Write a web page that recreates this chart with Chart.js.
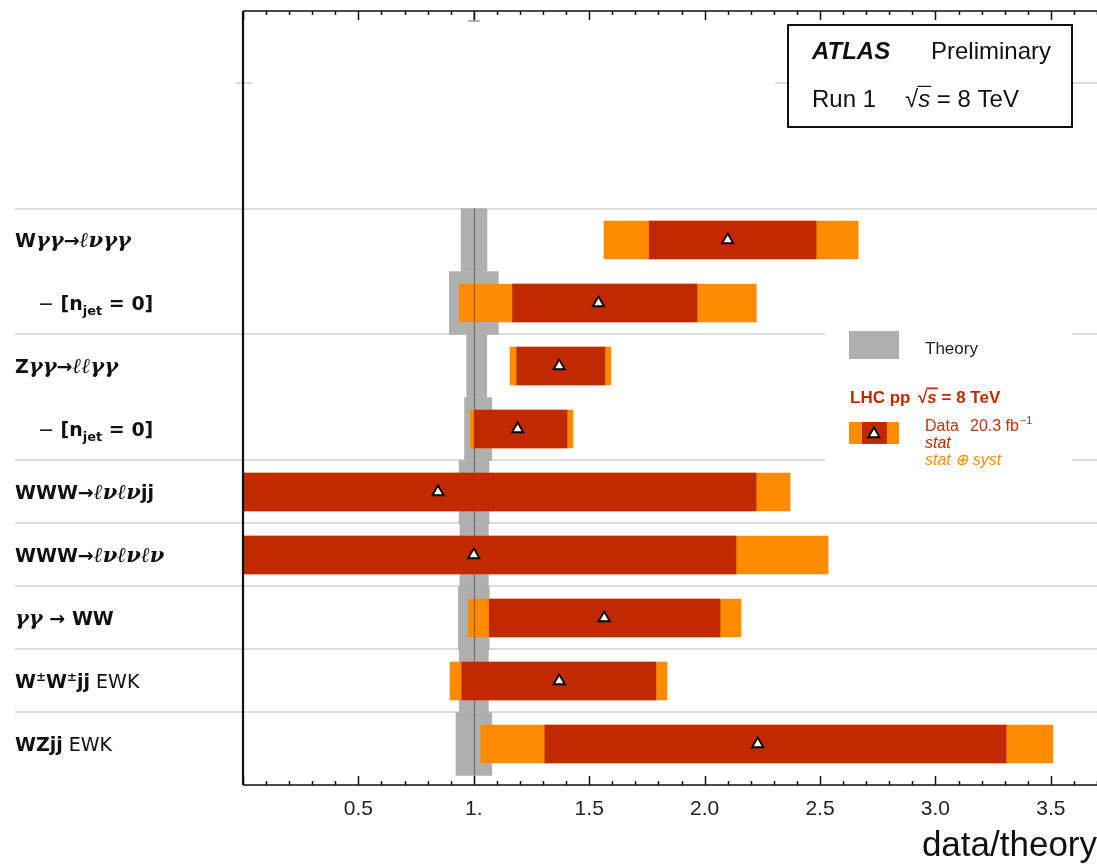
<!DOCTYPE html>
<html>
<head>
<meta charset="utf-8">
<script src="https://cdn.jsdelivr.net/npm/chart.js@4.4.1/dist/chart.umd.min.js"></script>
<style>
  html, body { margin: 0; padding: 0; background: #fff; }
  canvas { display: block; }
</style>
</head>
<body>
<canvas id="c" width="1097" height="864"></canvas>
<script>
// Rows from top to bottom. Markup: *..* italic serif, ~..~ regular weight,
// _{..} subscript, ^{..} superscript; everything else bold.
const categories = [
  'W*γγ*→*ℓνγγ*',
  '− [n_{jet} = 0]',
  'Z*γγ*→*ℓℓγγ*',
  '− [n_{jet} = 0]',
  'WWW→*ℓνℓν*jj',
  'WWW→*ℓνℓνℓν*',
  '*γγ* → WW',
  'W^{±}W^{±}jj~ EWK~',
  'WZjj~ EWK~'
];
// rows per measurement group (separated by thin rules)
const groupSizes = [2, 2, 1, 1, 1, 1, 1];

// measured / predicted cross-section
const ratio   = [2.10, 1.54, 1.37, 1.19, 0.845, 1.00, 1.565, 1.37, 2.23];
// statistical interval
const statLo  = [1.76, 1.168, 1.186, 1.002, -0.53, -0.14, 1.067, 0.948, 1.308];
const statHi  = [2.483, 1.967, 1.568, 1.404, 2.223, 2.136, 2.067, 1.789, 3.306];
// statistical + systematic interval
const totLo   = [1.564, 0.937, 1.157, 0.984, -0.68, -0.54, 0.976, 0.897, 1.030];
const totHi   = [2.665, 2.224, 1.594, 1.430, 2.370, 2.535, 2.158, 1.837, 3.509];
// theory interval (normalised to the prediction)
const theoryLo = [0.945, 0.894, 0.969, 0.960, 0.936, 0.940, 0.933, 0.937, 0.923];
const theoryHi = [1.057, 1.106, 1.056, 1.078, 1.066, 1.063, 1.067, 1.063, 1.078];

// x axis labels
const tickValues = [0.5, 1, 1.5, 2, 2.5, 3, 3.5];
const tickLabels = ['0.5', '1.', '1.5', '2.0', '2.5', '3.0', '3.5'];

const RED = '#c12a00';
const ORANGE = '#ff8c00';
const GREY = '#afafaf';

const rows = categories.map((_, i) => i);
const band = (lo, hi) => rows.map(i => ({ x: [lo[i], hi[i]], y: i }));

// ---------- rich label drawing ----------
const FONTS = {
  b:   { font: 'bold 19px "DejaVu Sans"', dy: 0 },
  r:   { font: '19px "DejaVu Sans"', dy: 0 },
  i:   { font: 'italic bold 21px "DejaVu Serif"', dy: 0 },
  sub: { font: 'bold 13px "DejaVu Sans"', dy: 5 },
  sup: { font: 'bold 12px "DejaVu Sans"', dy: -7 }
};
function parseRich(str) {
  const segs = [];
  let mode = 'b', buf = '';
  const push = (m, t) => { if (t) segs.push({ m, t }); };
  for (let k = 0; k < str.length; k++) {
    const c = str[k];
    if (c === '*') { push(mode, buf); buf = ''; mode = mode === 'i' ? 'b' : 'i'; }
    else if (c === '~') { push(mode, buf); buf = ''; mode = mode === 'r' ? 'b' : 'r'; }
    else if ((c === '_' || c === '^') && str[k + 1] === '{') {
      push(mode, buf); buf = '';
      const end = str.indexOf('}', k);
      push(c === '_' ? 'sub' : 'sup', str.slice(k + 2, end));
      k = end;
    } else if (c === '−') { push(mode, buf); buf = ''; push('r', c); }
    else buf += c;
  }
  push(mode, buf);
  return segs;
}
function drawRich(ctx, str, x, baseline) {
  ctx.textAlign = 'left';
  ctx.textBaseline = 'alphabetic';
  for (const s of parseRich(str)) {
    const f = FONTS[s.m];
    ctx.font = f.font;
    ctx.fillText(s.t, x, baseline + f.dy);
    x += ctx.measureText(s.t).width;
  }
}
function triangle(ctx, x, y, r) {
  ctx.beginPath();
  ctx.moveTo(x, y - r);
  ctx.lineTo(x + r * 0.866, y + r * 0.5);
  ctx.lineTo(x - r * 0.866, y + r * 0.5);
  ctx.closePath();
  ctx.fillStyle = '#fff';
  ctx.fill();
  ctx.lineWidth = 1.8;
  ctx.strokeStyle = '#000';
  ctx.stroke();
}
// "√s" with an overbar; returns the x after the text
function drawSqrtS(ctx, x, baseline, size, weight) {
  ctx.textAlign = 'left';
  ctx.textBaseline = 'alphabetic';
  ctx.font = `${weight} ${size}px "Liberation Sans"`;
  ctx.fillText('√', x, baseline);
  x += ctx.measureText('√').width;
  ctx.font = `italic ${weight} ${size}px "Liberation Sans"`;
  const w = ctx.measureText('s').width;
  ctx.fillText('s', x, baseline);
  ctx.beginPath();
  ctx.lineWidth = weight === 'bold' ? 1.8 : 1.2;
  ctx.moveTo(x - 1, baseline - size * 0.86);
  ctx.lineTo(x + w + 1, baseline - size * 0.86);
  ctx.stroke();
  return x + w;
}

const decor = {
  id: 'decor',
  beforeDatasetsDraw(chart) {
    const { ctx, scales: { y } } = chart;
    ctx.save();
    ctx.strokeStyle = '#dcdcdc';
    ctx.lineWidth = 2;
    let b = -0.5;
    const bounds = [b];
    groupSizes.slice(0, -1).forEach(n => { b += n; bounds.push(b); });
    for (const v of bounds) {
      const py = Math.round(y.getPixelForValue(v));
      ctx.beginPath(); ctx.moveTo(15, py); ctx.lineTo(1097, py); ctx.stroke();
    }
    // upper rule, mostly hidden
    const pu = Math.round(y.getPixelForValue(-2.5));
    ctx.beginPath(); ctx.moveTo(236, pu); ctx.lineTo(252, pu); ctx.stroke();
    ctx.beginPath(); ctx.moveTo(775, pu); ctx.lineTo(1097, pu); ctx.stroke();
    ctx.restore();
  },
  afterDatasetDraw(chart, args) {
    if (args.index !== 2) return;
    const { ctx, chartArea, scales: { x, y } } = chart;
    const px = Math.round(x.getPixelForValue(1)) + 0.5;
    ctx.save();
    ctx.strokeStyle = 'rgba(70,70,70,0.6)';
    ctx.lineWidth = 1.2;
    ctx.beginPath();
    ctx.moveTo(px, y.getPixelForValue(-0.5));
    ctx.lineTo(px, chartArea.bottom);
    ctx.stroke();
    ctx.restore();
  },
  afterDatasetsDraw(chart) {
    const { ctx, chartArea: ca, scales: { x, y } } = chart;
    ctx.save();
    // theory stub on the top axis
    const p1 = x.getPixelForValue(1);
    ctx.strokeStyle = '#9a9a9a';
    ctx.lineWidth = 1.5;
    ctx.beginPath();
    ctx.moveTo(p1, ca.top); ctx.lineTo(p1, ca.top + 10);
    ctx.moveTo(p1 - 6, ca.top + 10); ctx.lineTo(p1 + 6, ca.top + 10);
    ctx.stroke();

    // frame
    ctx.strokeStyle = '#111';
    ctx.lineWidth = 2.2;
    ctx.beginPath();
    ctx.moveTo(ca.left, ca.top); ctx.lineTo(ca.left, ca.bottom);
    ctx.stroke();
    ctx.lineWidth = 1.6;
    ctx.beginPath();
    ctx.moveTo(ca.left, ca.top); ctx.lineTo(ca.right, ca.top);
    ctx.moveTo(ca.left, ca.bottom); ctx.lineTo(ca.right, ca.bottom);
    ctx.stroke();
    // tick marks, bottom and top
    ctx.lineWidth = 1.5;
    ctx.beginPath();
    for (const t of x.ticks) {
      const major = Math.abs(t.value * 2 - Math.round(t.value * 2)) < 1e-6;
      const len = major ? 9 : 4;
      const px = Math.round(x.getPixelForValue(t.value)) + 0.5;
      ctx.moveTo(px, ca.bottom); ctx.lineTo(px, ca.bottom - len);
      ctx.moveTo(px, ca.top); ctx.lineTo(px, ca.top + len);
    }
    ctx.stroke();

    // row labels
    ctx.fillStyle = '#111';
    categories.forEach((lab, i) => {
      const py = y.getPixelForValue(i);
      const x0 = lab.startsWith('−') ? 38 : 15;
      drawRich(ctx, lab, x0, py + 7);
    });

    // experiment box
    ctx.fillStyle = '#fff';
    ctx.fillRect(788, 25, 284, 102);
    ctx.strokeStyle = '#111';
    ctx.lineWidth = 2;
    ctx.strokeRect(788, 25, 284, 102);
    ctx.fillStyle = '#111';
    ctx.textBaseline = 'alphabetic';
    ctx.textAlign = 'left';
    ctx.font = 'italic bold 24px "Liberation Sans"';
    ctx.fillText('ATLAS', 812, 59);
    ctx.font = '24px "Liberation Sans"';
    ctx.fillText('Preliminary', 931, 59);
    ctx.fillText('Run 1', 812, 107);
    ctx.strokeStyle = '#111';
    let xx = drawSqrtS(ctx, 905, 107, 24, 'normal');
    ctx.font = '24px "Liberation Sans"';
    ctx.fillText(' = 8 TeV', xx, 107);

    // legend
    ctx.fillStyle = '#fff';
    ctx.fillRect(825, 318, 247, 156);
    ctx.fillStyle = GREY;
    ctx.fillRect(849, 331, 50, 28);
    ctx.fillStyle = '#222';
    ctx.font = '17px "Liberation Sans"';
    ctx.fillText('Theory', 925, 354);

    ctx.fillStyle = RED;
    ctx.strokeStyle = RED;
    ctx.font = 'bold 17px "Liberation Sans"';
    ctx.fillText('LHC pp', 850, 403);
    xx = drawSqrtS(ctx, 918, 403, 17, 'bold');
    ctx.font = 'bold 17px "Liberation Sans"';
    ctx.fillText(' = 8 TeV', xx, 403);

    ctx.fillStyle = ORANGE;
    ctx.fillRect(849, 422, 50, 22);
    ctx.fillStyle = RED;
    ctx.fillRect(862, 422, 25, 22);
    triangle(ctx, 874, 434, 6.5);

    ctx.fillStyle = '#c0350f';
    ctx.font = '16px "Liberation Sans"';
    ctx.fillText('Data', 925, 431);
    ctx.fillText('20.3 fb', 970, 431);
    const fbw = ctx.measureText('20.3 fb').width;
    ctx.font = '11px "Liberation Sans"';
    ctx.fillText('−1', 970 + fbw + 1, 424);
    ctx.fillStyle = RED;
    ctx.font = 'italic 16px "Liberation Sans"';
    ctx.fillText('stat', 925, 448);
    ctx.fillStyle = ORANGE;
    ctx.fillText('stat ⊕ syst', 925, 465);
    ctx.restore();
  }
};

new Chart(document.getElementById('c'), {
  type: 'bar',
  data: {
    datasets: [
      {
        type: 'scatter',
        label: 'Data',
        data: rows.map(i => ({ x: ratio[i], y: i })),
        pointStyle: 'triangle',
        pointRadius: 6.5,
        pointHoverRadius: 6.5,
        backgroundColor: '#fff',
        borderColor: '#000',
        borderWidth: 1.8,
        order: 0
      },
      {
        label: 'stat',
        data: band(statLo, statHi),
        backgroundColor: RED,
        barThickness: 38,
        grouped: false,
        borderWidth: 0,
        order: 1
      },
      {
        label: 'stat ⊕ syst',
        data: band(totLo, totHi),
        backgroundColor: ORANGE,
        barThickness: 38,
        grouped: false,
        borderWidth: 0,
        order: 2
      },
      {
        label: 'Theory',
        data: band(theoryLo, theoryHi),
        backgroundColor: GREY,
        barThickness: 63,
        grouped: false,
        borderWidth: 0,
        order: 3
      }
    ]
  },
  options: {
    indexAxis: 'y',
    responsive: false,
    animation: false,
    devicePixelRatio: 1,
    layout: { autoPadding: false, padding: { left: 243, top: 11, right: 0, bottom: 0 } },
    plugins: { legend: { display: false }, tooltip: { enabled: false } },
    events: [],
    scales: {
      x: {
        type: 'linear',
        position: 'bottom',
        min: 0,
        max: 3.7,
        offset: false,
        grid: { display: false, drawTicks: false },
        border: { display: false },
        ticks: {
          stepSize: 0.1,
          maxTicksLimit: 100,
          autoSkip: false,
          maxRotation: 0,
          padding: 12,
          color: '#222',
          font: { family: 'Liberation Sans', size: 21 },
          callback: v => {
            const k = tickValues.findIndex(t => Math.abs(t - v) < 1e-6);
            return k >= 0 ? tickLabels[k] : '';
          }
        },
        title: {
          display: true,
          text: 'data/theory',
          align: 'end',
          color: '#111',
          padding: { top: 0, bottom: 0 },
          font: { family: 'Liberation Sans', size: 35, lineHeight: 1 }
        },
        afterFit: s => { s.height = 79; s.paddingLeft = 0; s.paddingRight = 0; }
      },
      y: {
        type: 'linear',
        display: false,
        reverse: true,
        offset: false,
        min: -3.635,
        max: 8.651,
        grid: { display: false }
      }
    }
  },
  plugins: [decor]
});
</script>
</body>
</html>
